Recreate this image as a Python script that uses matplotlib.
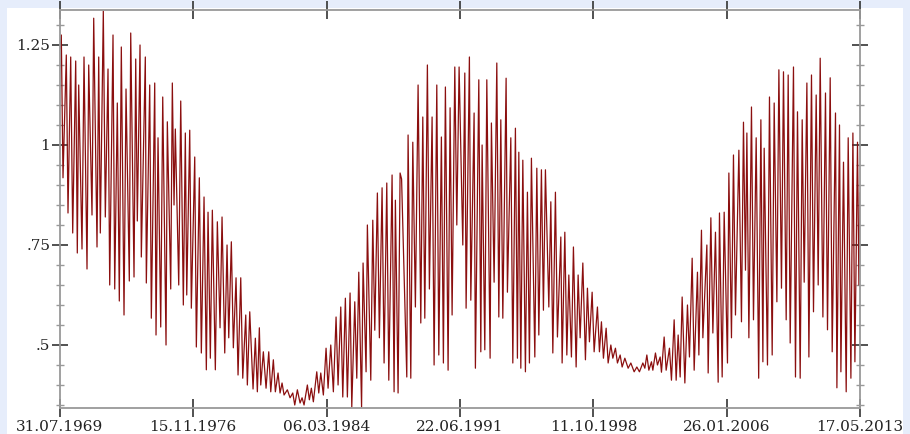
import numpy as np
import matplotlib
matplotlib.use("Agg")
import matplotlib.pyplot as plt
import matplotlib.dates as mdates
from matplotlib.patches import Rectangle
from matplotlib.ticker import FixedLocator, FixedFormatter
from datetime import datetime

# ---- data: days since 31.07.1969 and values ----
start_date = "1969-07-31"
end_date = "2013-05-17"
days = [0, 26, 60, 126, 160, 214, 254, 314, 346, 374, 440, 480, 540, 574, 640, 674, 740, 774, 806, 866,
        906, 960, 994, 1060, 1094, 1146, 1186, 1226, 1280, 1320, 1386, 1414, 1480, 1514, 1546, 1600, 1626,
        1706, 1726, 1794, 1826, 1894, 1920, 1960, 2014, 2054, 2120, 2146, 2214, 2246, 2280, 2306, 2374,
        2414, 2466, 2506, 2534, 2594, 2626, 2694, 2726, 2786, 2826, 2880, 2926, 2960, 3006, 3046, 3106,
        3146, 3200, 3240, 3294, 3340, 3374, 3426, 3466, 3520, 3560, 3614, 3654, 3714, 3746, 3794, 3860,
        3906, 3946, 3986, 4014, 4066, 4120, 4174, 4214, 4266, 4306, 4360, 4400, 4440, 4480, 4546, 4600,
        4654, 4694, 4746, 4800, 4840, 4880, 4946, 4986, 5026, 5066, 5134, 5174, 5214, 5266, 5320, 5360,
        5414, 5466, 5520, 5560, 5614, 5654, 5706, 5746, 5800, 5834, 5894, 5934, 5974, 6030, 6060, 6120,
        6146, 6214, 6254, 6294, 6346, 6386, 6440, 6480, 6534, 6574, 6640, 6680, 6706, 6760, 6800, 6830,
        6934, 6960, 7014, 7054, 7106, 7160, 7214, 7254, 7294, 7346, 7386, 7440, 7480, 7534, 7574, 7626,
        7666, 7706, 7760, 7800, 7840, 7894, 7934, 7980, 8054, 8094, 8120, 8186, 8214, 8280, 8306, 8374,
        8414, 8440, 8494, 8534, 8600, 8626, 8680, 8734, 8774, 8814, 8854, 8920, 8946, 9014, 9054, 9106,
        9146, 9174, 9214, 9254, 9306, 9346, 9386, 9426, 9494, 9534, 9574, 9626, 9666, 9706, 9774, 9814,
        9854, 9906, 9946, 10014, 10040, 10094, 10134, 10174, 10226, 10266, 10320, 10360, 10400, 10454,
        10506, 10546, 10586, 10640, 10680, 10746, 10786, 10826, 10866, 10920, 10960, 11014, 11054, 11106,
        11146, 11200, 11240, 11294, 11360, 11414, 11480, 11534, 11586, 11654, 11694, 11734, 11774, 11826,
        11854, 11906, 11946, 12000, 12026, 12080, 12120, 12186, 12226, 12280, 12320, 12360, 12400, 12440,
        12494, 12546, 12586, 12640, 12680, 12746, 12774, 12826, 12854, 12934, 12960, 13014, 13054, 13106,
        13160, 13186, 13240, 13280, 13346, 13374, 13426, 13466, 13506, 13574, 13626, 13666, 13706, 13734,
        13774, 13826, 13866, 13920, 13970, 14014, 14054, 14080, 14146, 14186, 14240, 14280, 14334, 14374,
        14426, 14466, 14520, 14560, 14600, 14666, 14706, 14746, 14800, 14840, 14880, 14934, 14974, 15026,
        15066, 15120, 15160, 15200, 15254, 15306, 15346, 15400, 15440, 15506, 15534, 15586, 15614, 15666,
        15720, 15760, 15814, 15854, 15894, 15946, 15974, 15995]
values = [1.24, 1.275, 0.918, 1.225, 0.83, 1.22, 0.78, 1.21, 0.73, 1.15, 0.74, 1.22, 0.69, 1.20, 0.825, 1.317,
          0.745, 1.22, 0.78, 1.335, 0.82, 1.19, 0.65, 1.275, 0.64, 1.105, 0.61, 1.245, 0.575, 1.14, 0.66, 1.28,
          0.67, 1.215, 0.81, 1.25, 0.72, 1.22, 0.655, 1.15, 0.567, 1.155, 0.525, 1.018, 0.545, 1.12, 0.50,
          1.058, 0.64, 1.155, 0.85, 1.04, 0.65, 1.11, 0.60, 1.03, 0.625, 1.037, 0.592, 0.97, 0.495, 0.918,
          0.48, 0.87, 0.438, 0.832, 0.467, 0.837, 0.438, 0.808, 0.543, 0.82, 0.48, 0.75, 0.518, 0.758, 0.493,
          0.668, 0.425, 0.668, 0.417, 0.575, 0.40, 0.583, 0.39, 0.517, 0.383, 0.543, 0.40, 0.483, 0.392,
          0.483, 0.383, 0.463, 0.383, 0.43, 0.38, 0.405, 0.375, 0.388, 0.368, 0.38, 0.35, 0.388, 0.355,
          0.368, 0.35, 0.40, 0.363, 0.392, 0.358, 0.433, 0.38, 0.43, 0.375, 0.492, 0.392, 0.50, 0.383, 0.57,
          0.40, 0.595, 0.37, 0.617, 0.37, 0.63, 0.345, 0.608, 0.417, 0.682, 0.345, 0.705, 0.433, 0.80, 0.412,
          0.812, 0.537, 0.88, 0.518, 0.893, 0.455, 0.905, 0.412, 0.925, 0.383, 0.862, 0.38, 0.93, 0.915,
          0.42, 1.025, 0.417, 1.007, 0.595, 1.15, 0.555, 1.07, 0.567, 1.20, 0.64, 1.07, 0.45, 1.15, 0.475,
          1.02, 0.455, 1.145, 0.437, 1.093, 0.575, 1.195, 0.80, 1.195, 0.75, 1.18, 0.592, 1.22, 0.612, 1.08,
          0.442, 1.163, 0.483, 1.0, 0.488, 1.163, 0.467, 1.055, 0.657, 1.205, 0.57, 1.063, 0.567, 1.167,
          0.632, 1.018, 0.455, 1.042, 0.467, 0.982, 0.442, 0.962, 0.433, 0.882, 0.455, 0.967, 0.47, 0.942,
          0.525, 0.938, 0.587, 0.938, 0.595, 0.858, 0.48, 0.882, 0.52, 0.77, 0.455, 0.782, 0.475, 0.675,
          0.47, 0.745, 0.445, 0.675, 0.518, 0.705, 0.463, 0.642, 0.508, 0.632, 0.483, 0.595, 0.483, 0.558,
          0.467, 0.542, 0.455, 0.50, 0.467, 0.492, 0.455, 0.475, 0.445, 0.467, 0.442, 0.455, 0.433, 0.445,
          0.433, 0.455, 0.442, 0.475, 0.437, 0.458, 0.437, 0.48, 0.45, 0.47, 0.432, 0.52, 0.437, 0.492,
          0.412, 0.563, 0.412, 0.525, 0.42, 0.62, 0.405, 0.60, 0.47, 0.717, 0.437, 0.682, 0.475, 0.787,
          0.518, 0.75, 0.43, 0.818, 0.53, 0.782, 0.407, 0.83, 0.42, 0.832, 0.455, 0.93, 0.518, 0.975, 0.575,
          0.987, 0.558, 1.057, 0.687, 1.03, 0.518, 1.095, 0.563, 1.018, 0.417, 1.063, 0.458, 0.992, 0.45,
          1.12, 0.475, 1.105, 0.608, 1.188, 0.642, 1.183, 0.563, 1.175, 0.505, 1.195, 0.42, 1.083, 0.417,
          1.063, 0.657, 1.155, 0.47, 1.175, 0.583, 1.125, 0.65, 1.217, 0.57, 1.13, 0.538, 1.168, 0.483, 1.08,
          0.393, 1.05, 0.433, 0.957, 0.383, 1.018, 0.417, 1.03, 0.458, 1.007, 0.65, 0.88]

x_tick_labels = ["31.07.1969", "15.11.1976", "06.03.1984", "22.06.1991",
                 "11.10.1998", "26.01.2006", "17.05.2013"]
y_ticks = [0.5, 0.75, 1.0, 1.25]
y_tick_labels = [".5", ".75", "1", "1.25"]
y_minor = [0.35, 0.40, 0.45, 0.55, 0.60, 0.65, 0.70, 0.80, 0.85, 0.90, 0.95,
           1.05, 1.10, 1.15, 1.20, 1.30]

# ---- figure ----
W, H = 910, 434
fig = plt.figure(figsize=(W / 100, H / 100), dpi=100, facecolor="#e6edfb")
bg = Rectangle((7 / W, 0), (903 - 7) / W, 426 / H, transform=fig.transFigure,
               facecolor="white", edgecolor="none", zorder=-10)
fig.add_artist(bg)

ax = fig.add_axes([60 / W, (H - 408) / H, 800 / W, 398 / H])
ax.set_zorder(1)
ax.set_facecolor("white")

dates = np.datetime64(start_date) + np.array(days, dtype="timedelta64[D]")
ax.plot(dates, values, color="#8b0f0f", lw=0.9)

ax.set_xlim(np.datetime64(start_date), np.datetime64(end_date))
ax.set_ylim(0.3425, 1.3375)

tick_pos = [mdates.date2num(datetime.strptime(s, "%d.%m.%Y")) for s in x_tick_labels]
ax.xaxis.set_major_locator(FixedLocator(tick_pos))
ax.xaxis.set_major_formatter(FixedFormatter(x_tick_labels))
ax.yaxis.set_major_locator(FixedLocator(y_ticks))
ax.yaxis.set_major_formatter(FixedFormatter(y_tick_labels))
ax.yaxis.set_minor_locator(FixedLocator(y_minor))

for s in ax.spines.values():
    s.set_color("#999999")
    s.set_linewidth(1.3)

ax.tick_params(axis="x", which="major", direction="inout", length=13, width=1.2,
               color="#333333", top=True, bottom=True, pad=2, labelsize=11,
               labelcolor="#222222")
ax.tick_params(axis="y", which="major", direction="inout", length=12, width=1.2,
               color="#333333", left=True, right=True, pad=1, labelsize=11,
               labelcolor="#222222")
ax.tick_params(axis="y", which="minor", direction="inout", length=6, width=1.0,
               color="#999999", left=True, right=True)
for lab in ax.get_xticklabels() + ax.get_yticklabels():
    lab.set_fontfamily("DejaVu Serif")

fig.savefig("out.png", dpi=100, facecolor=fig.get_facecolor())
